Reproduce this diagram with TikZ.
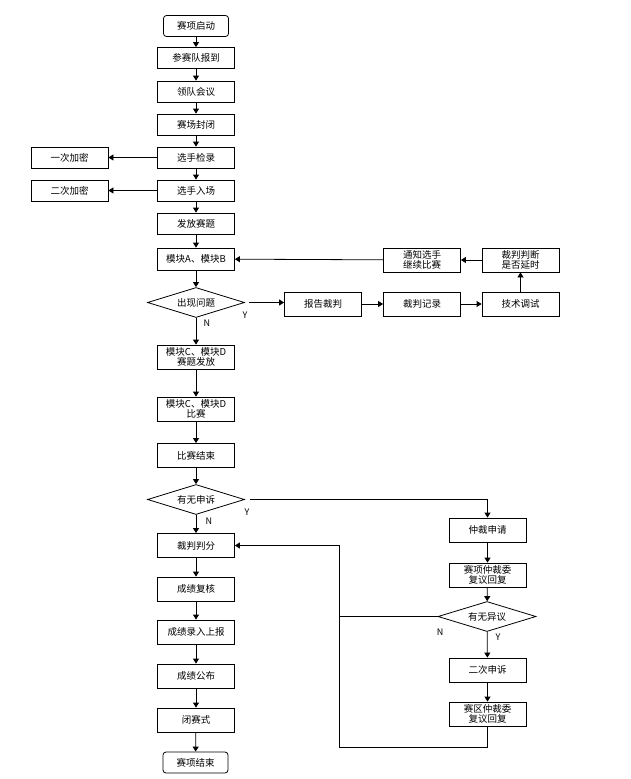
\documentclass[tikz,border=0pt]{standalone}
\usepackage{fontspec}
\setmainfont{Noto Sans CJK SC}
\usetikzlibrary{shapes.geometric,arrows.meta}
\begin{document}
\begin{tikzpicture}[x=1pt,y=-1pt,
  every node/.style={font=\fontsize{9.5}{10}\selectfont, inner sep=0pt},
  box/.style={draw, line width=0.8pt, minimum width=77pt, minimum height=24pt, align=center},
  sbox/.style={box, minimum height=21pt},
  term/.style={draw, line width=0.8pt, rounded corners=3pt, minimum width=65pt, minimum height=21pt},
  dia/.style={draw, line width=0.8pt, diamond, aspect=3, minimum width=97pt, minimum height=30pt},
  arr/.style={line width=0.8pt, -{Triangle[width=6pt,length=5pt]}},
  ln/.style={line width=0.8pt},
  lab/.style={font=\fontsize{9}{10}\selectfont}]
\useasboundingbox (0,0) rectangle (630,779);
% main column
\node[term] (start) at (196,26) {赛项启动};
\node[sbox] (bd) at (196,58) {参赛队报到};
\node[sbox] (ld) at (196,91.5) {领队会议};
\node[sbox] (fb) at (196,124.5) {赛场封闭};
\node[sbox] (jl) at (196,157.5) {选手检录};
\node[sbox] (rc) at (196,190.5) {选手入场};
\node[sbox] (ff) at (196,223.5) {发放赛题};
\node[sbox] (j1) at (69.5,157.5) {一次加密};
\node[sbox] (j2) at (69.5,190.5) {二次加密};
\node[box, minimum height=22pt] (ab) at (196,259) {模块A、模块B};
\node[dia] (d1) at (196,302.5) {出现问题};
\node[box] (cd1) at (196,357) {模块C、模块D\\赛题发放};
\node[box] (cd2) at (196,409) {模块C、模块D\\比赛};
\node[box] (js) at (196,455.5) {比赛结束};
\node[dia] (d2) at (196,499.5) {有无申诉};
\node[box] (pf) at (196,545.5) {裁判判分};
\node[box] (fh) at (196,589) {成绩复核};
\node[box] (lr) at (196,632) {成绩录入上报};
\node[box] (gb) at (196,676) {成绩公布};
\node[box] (bs) at (196,720) {闭赛式};
\node[term] (end) at (195.5,762.5) {赛项结束};
% problem row
\node[box] (bg) at (323,304) {报告裁判};
\node[box] (jlu) at (422,304) {裁判记录};
\node[box] (ts) at (520.5,304) {技术调试};
\node[box] (pd) at (520.5,260) {裁判判断\\是否延时};
\node[box] (tz) at (422,260) {通知选手\\继续比赛};
% appeal column
\node[box] (zc) at (487.5,530) {仲裁申请};
\node[box] (xm) at (487.5,575) {赛项仲裁委\\复议回复};
\node[dia, minimum width=98pt] (d3) at (487,616.5) {有无异议};
\node[box] (ec) at (487.5,670) {二次申诉};
\node[box] (sq) at (487.5,714) {赛区仲裁委\\复议回复};
% main arrows
\draw[arr] (start) -- (bd);
\draw[arr] (bd) -- (ld);
\draw[arr] (ld) -- (fb);
\draw[arr] (fb) -- (jl);
\draw[arr] (jl) -- (rc);
\draw[arr] (rc) -- (ff);
\draw[arr] (ff) -- (ab);
\draw[arr] (ab) -- (d1);
\draw[arr] (d1) -- (cd1);
\draw[arr] (cd1) -- (cd2);
\draw[arr] (cd2) -- (js);
\draw[arr] (js) -- (d2);
\draw[arr] (d2) -- (pf);
\draw[arr] (pf) -- (fh);
\draw[arr] (fh) -- (lr);
\draw[arr] (lr) -- (gb);
\draw[arr] (gb) -- (bs);
\draw[arr] (bs) -- (end);
\draw[arr] (jl) -- (j1);
\draw[arr] (rc) -- (j2);
% problem loop
\draw[arr, shorten <=4pt] (d1.east) -- (bg.west |- d1.east);
\draw[arr] (bg) -- (jlu);
\draw[arr] (jlu) -- (ts);
\draw[arr] (ts) -- (pd);
\draw[arr] (pd) -- (tz);
\draw[arr] (tz) -- (ab);
\node[lab] at (245,315) {Y};
\node[lab] at (207,323) {N};
% appeal
\draw[arr, shorten <=5pt] (d2.east) -| (zc.north);
\node[lab] at (247,512) {Y};
\node[lab] at (209,521) {N};
\draw[arr] (zc) -- (xm);
\draw[arr] (xm) -- (d3);
\draw[arr] (d3) -- (ec);
\draw[arr] (ec) -- (sq);
\node[lab] at (440,632) {N};
\node[lab] at (498,637) {Y};
\coordinate (fbb) at (339,747);
\draw[ln] (sq.south) |- (fbb) -- (fbb |- d3.west);
\draw[arr] (d3.west) -| (fbb |- pf.east) -- (pf.east);
\end{tikzpicture}
\end{document}
